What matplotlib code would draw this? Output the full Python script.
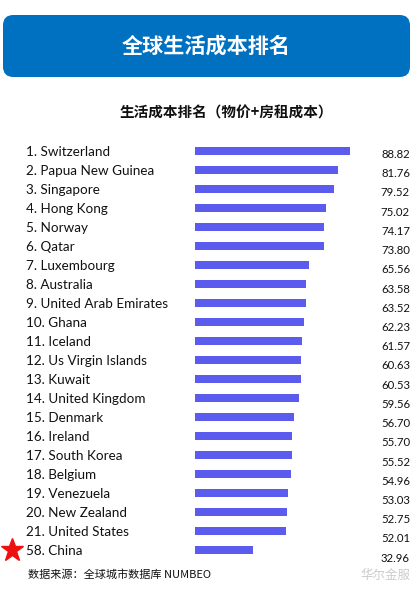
import matplotlib.pyplot as plt
from matplotlib.patches import FancyBboxPatch
import matplotlib.transforms as mtransforms

plt.rcParams['font.family'] = ['Lato', 'Noto Sans CJK SC', 'DejaVu Sans']

ranks = [1, 2, 3, 4, 5, 6, 7, 8, 9, 10, 11, 12, 13, 14, 15, 16, 17, 18, 19, 20, 21, 58]
countries = ["Switzerland", "Papua New Guinea", "Singapore", "Hong Kong", "Norway",
             "Qatar", "Luxembourg", "Australia", "United Arab Emirates", "Ghana",
             "Iceland", "Us Virgin Islands", "Kuwait", "United Kingdom", "Denmark",
             "Ireland", "South Korea", "Belgium", "Venezuela", "New Zealand",
             "United States", "China"]
values = [88.82, 81.76, 79.52, 75.02, 74.17, 73.80, 65.56, 63.58, 63.52, 62.23,
          61.57, 60.63, 60.53, 59.56, 56.70, 55.70, 55.52, 54.96, 53.03, 52.75,
          52.01, 32.96]

W, H = 413, 592
fig = plt.figure(figsize=(W / 100, H / 100), dpi=100)
fig.patch.set_facecolor('white')

# header box
hdr = FancyBboxPatch((3 / W, 1 - 77 / H), 407 / W, 62 / H,
                     boxstyle="round,pad=0,rounding_size=0.025",
                     transform=fig.transFigure, facecolor='#0070C0',
                     edgecolor='none', mutation_aspect=W / H)
fig.patches.append(hdr)
fig.text(0.5, 1 - 46 / H, "全球生活成本排名", color='white', fontsize=15.2,
         fontweight='bold', ha='center', va='center',
         family=['Noto Sans CJK SC'])
fig.text(226 / W, 1 - 113 / H, "生活成本排名（物价+房租成本）", fontsize=10.5,
         fontweight='bold', ha='center', va='center', color='#111111',
         family=['Noto Sans CJK SC'])

# bar area
top, bot = 141.5, 559.5
ax = fig.add_axes([195 / W, 1 - bot / H, 174.5 / W, (bot - top) / H])
y = list(range(len(values)))
ax.barh(y, values, height=0.42, color='#5B5BEE')
ax.set_xlim(0, 100)
ax.set_ylim(len(values) - 0.5, -0.5)
ax.axis('off')

tr = mtransforms.blended_transform_factory(fig.transFigure, ax.transData)
for i, (r, c, v) in enumerate(zip(ranks, countries, values)):
    ax.text(26 / W, i + 0.05, f"{r}. {c}", transform=tr, fontsize=9.7,
            ha='left', va='center', color='#111111')
    ax.text(410 / W, i + 0.18 + 0.012 * i, f"{v:.2f}", transform=tr,
            fontsize=8.2, ha='right', va='center', color='#111111')

# star for China
ax.plot([12 / W], [len(values) - 1], transform=tr, marker='*', markersize=17,
        color='#EE1111', clip_on=False)

fig.text(28 / W, 1 - 575 / H, "数据来源：全球城市数据库 NUMBEO", fontsize=8,
         ha='left', va='center', color='#111111',
         family=['Noto Sans CJK SC', 'DejaVu Sans'])
fig.text(410 / W, 1 - 575 / H, "华尔金服", fontsize=9, ha='right', va='center',
         color='#cccccc', family=['Noto Sans CJK SC'])

fig.savefig("out.png", dpi=100)
